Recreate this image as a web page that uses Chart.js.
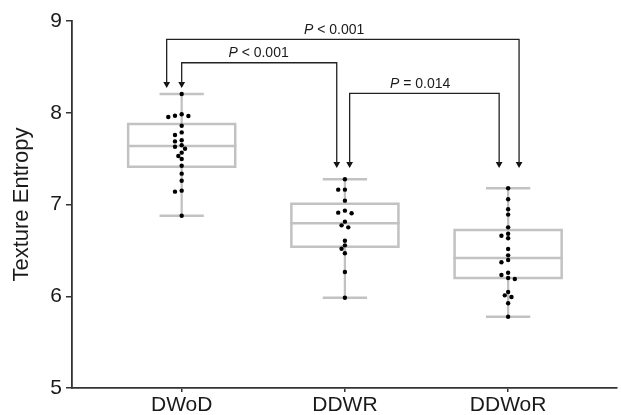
<!DOCTYPE html>
<html><head><meta charset="utf-8">
<script src="https://cdn.jsdelivr.net/npm/chart.js@4.4.1/dist/chart.umd.min.js"></script>
<style>html,body{margin:0;padding:0;background:#fff;overflow:hidden;} #wrap{width:621px;height:415px;}</style>
</head><body><div id="wrap"><canvas id="c" width="621" height="415"></canvas></div>
<script>
// ---- data ----
const categories = ['DWoD', 'DDWR', 'DDWoR'];
const yTicks = [5, 6, 7, 8, 9];
const whiskerLow  = [6.878, 5.984, 5.777];
const quartile1   = [7.412, 6.540, 6.199];
const medians     = [7.638, 6.795, 6.417];
const quartile3   = [7.877, 7.009, 6.722];
const whiskerHigh = [8.204, 7.275, 7.177];
const dotsDWoD  = [8.204, 7.983, 7.968, 7.965, 7.954, 7.859, 7.786, 7.757, 7.700, 7.688, 7.645, 7.630, 7.608, 7.565, 7.529, 7.496, 7.423, 7.336, 7.259, 7.151, 7.140, 6.878];
const dotsDDWR  = [7.275, 7.162, 7.162, 7.042, 6.933, 6.911, 6.904, 6.813, 6.773, 6.751, 6.605, 6.555, 6.518, 6.468, 6.264, 5.984];
const dotsDDWoR = [7.177, 7.057, 6.948, 6.890, 6.751, 6.682, 6.660, 6.632, 6.515, 6.446, 6.395, 6.370, 6.256, 6.232, 6.199, 6.188, 6.046, 6.010, 5.992, 5.923, 5.777];
const pTexts = [' < 0.001', ' < 0.001', ' = 0.014'];

// ---- layout / style (not data) ----
const FONT = '"Liberation Sans", Arial, Helvetica, sans-serif';
const BOX_HALF = 0.328, CAP_HALF = 0.128;
const BOX_COLOR = '#c2c2c2';
const INK = '#1a1a1a';
const brackets = [
  {from: 0, to: 2, dx1: -0.092, dx2: 0.067, level: 8.80, tip1: 8.313, tip2: 7.441, labelX: 0.934},
  {from: 0, to: 1, dx1: 0.0,    dx2: -0.050, level: 8.545, tip1: 8.313, tip2: 7.441, labelX: 0.471},
  {from: 1, to: 2, dx1: 0.029,  dx2: -0.055, level: 8.212, tip1: 7.441, tip2: 7.441, labelX: 1.461}
];

const dotGroups = [dotsDWoD, dotsDDWR, dotsDDWoR];
const datasets = [];
const dotIndex = [];

dotGroups.forEach((vals, g) => {
  dotIndex.push(datasets.length);
  datasets.push({
    data: vals.map(v => ({x: g, y: v})),
    pointRadius: 2.2, pointBackgroundColor: '#000', pointBorderWidth: 0,
    showLine: false, order: 0
  });
});

const lineDs = (pts, color, width, order) => ({
  data: pts, showLine: true, pointRadius: 0, borderColor: color, borderWidth: width,
  borderCapStyle: 'square', borderJoinStyle: 'miter', fill: false, order: order
});

categories.forEach((c, i) => {
  datasets.push(lineDs([
    {x: i - BOX_HALF, y: quartile1[i]}, {x: i + BOX_HALF, y: quartile1[i]},
    {x: i + BOX_HALF, y: quartile3[i]}, {x: i - BOX_HALF, y: quartile3[i]},
    {x: i - BOX_HALF, y: quartile1[i]}], BOX_COLOR, 2.5, 2));
  datasets.push(lineDs([{x: i - BOX_HALF, y: medians[i]}, {x: i + BOX_HALF, y: medians[i]}], BOX_COLOR, 2.5, 2));
  datasets.push(lineDs([{x: i, y: whiskerHigh[i]}, {x: i, y: quartile3[i]}], BOX_COLOR, 2.3, 2));
  datasets.push(lineDs([{x: i, y: whiskerLow[i]}, {x: i, y: quartile1[i]}], BOX_COLOR, 2.3, 2));
  datasets.push(lineDs([{x: i - CAP_HALF, y: whiskerHigh[i]}, {x: i + CAP_HALF, y: whiskerHigh[i]}], BOX_COLOR, 2.5, 2));
  datasets.push(lineDs([{x: i - CAP_HALF, y: whiskerLow[i]}, {x: i + CAP_HALF, y: whiskerLow[i]}], BOX_COLOR, 2.5, 2));
});

brackets.forEach(b => {
  const x1 = b.from + b.dx1, x2 = b.to + b.dx2;
  const ds = lineDs([{x: x1, y: b.tip1}, {x: x1, y: b.level}, {x: x2, y: b.level}, {x: x2, y: b.tip2}], '#222', 1.3, 1);
  ds.borderCapStyle = 'butt';
  datasets.push(ds);
  datasets.push({
    data: [{x: x1, y: b.tip1}, {x: x2, y: b.tip2}], showLine: false,
    pointStyle: 'triangle', rotation: 180, pointRadius: 3.9,
    pointBackgroundColor: '#111', pointBorderWidth: 0, order: 1
  });
});

const pLabels = {
  id: 'pLabels',
  afterDatasetsDraw(chart) {
    const {ctx, scales: {x, y}} = chart;
    ctx.save();
    ctx.fillStyle = INK;
    ctx.textBaseline = 'alphabetic';
    brackets.forEach((b, i) => {
      const cx = x.getPixelForValue(b.labelX);
      const by = y.getPixelForValue(b.level) - 5.5;
      ctx.font = 'italic 14px ' + FONT;
      const wP = ctx.measureText('P').width;
      ctx.font = '14px ' + FONT;
      const wR = ctx.measureText(pTexts[i]).width;
      const sx = cx - (wP + wR) / 2;
      ctx.font = 'italic 14px ' + FONT;
      ctx.fillText('P', sx, by);
      ctx.font = '14px ' + FONT;
      ctx.fillText(pTexts[i], sx + wP, by);
    });
    ctx.restore();
  }
};

const chart = new Chart(document.getElementById('c').getContext('2d'), {
  type: 'scatter',
  data: {datasets},
  options: {
    responsive: false, animation: false,
    layout: {padding: {top: 21, right: 0, left: 0, bottom: 0}},
    plugins: {legend: {display: false}, tooltip: {enabled: false}},
    scales: {
      x: {
        type: 'linear', min: -0.672, max: 2.667,
        afterBuildTicks: s => { s.ticks = categories.map((c, i) => ({value: i})); },
        afterFit: s => { s.height = 27; },
        ticks: {callback: v => categories[Math.round(v)] || '', font: {size: 21, family: FONT}, color: INK, padding: 1, maxRotation: 0, autoSkip: false},
        grid: {drawOnChartArea: false, drawTicks: true, tickLength: 4, color: '#333', lineWidth: 1.5},
        border: {display: true, color: '#333', width: 1.8}
      },
      y: {
        min: 5, max: 9,
        afterBuildTicks: s => { s.ticks = yTicks.map(v => ({value: v})); },
        afterFit: s => { s.width = 72; },
        ticks: {font: {size: 21, family: FONT}, color: INK, padding: 4},
        grid: {drawOnChartArea: false, drawTicks: true, tickLength: 6, color: '#333', lineWidth: 1.5},
        border: {display: true, color: '#333', width: 1.8},
        title: {display: true, text: 'Texture Entropy', font: {size: 22, family: FONT}, color: INK, padding: {top: 9, bottom: 0}}
      }
    }
  },
  plugins: [pLabels]
});

// beeswarm placement of dots computed with the chart's own scales
(function layoutSwarm() {
  const xs = chart.scales.x, ys = chart.scales.y;
  const D = 4.3, STEP = 3.35;
  dotGroups.forEach((vals, g) => {
    const cx = xs.getPixelForValue(g);
    const order = vals.map((v, i) => i).sort((a, b) => vals[b] - vals[a]);
    const placed = [];
    const out = new Array(vals.length);
    order.forEach(i => {
      const py = ys.getPixelForValue(vals[i]);
      for (let k = 0; k < 60; k++) {
        const off = (k === 0 ? 0 : (k % 2 ? -1 : 1) * Math.ceil(k / 2)) * STEP;
        if (placed.every(p => Math.hypot(p.x - off, p.y - py) >= D)) {
          placed.push({x: off, y: py});
          out[i] = {x: xs.getValueForPixel(cx + off), y: vals[i]};
          break;
        }
      }
    });
    chart.data.datasets[dotIndex[g]].data = out;
  });
  chart.update('none');
})();
</script>
</body></html>
